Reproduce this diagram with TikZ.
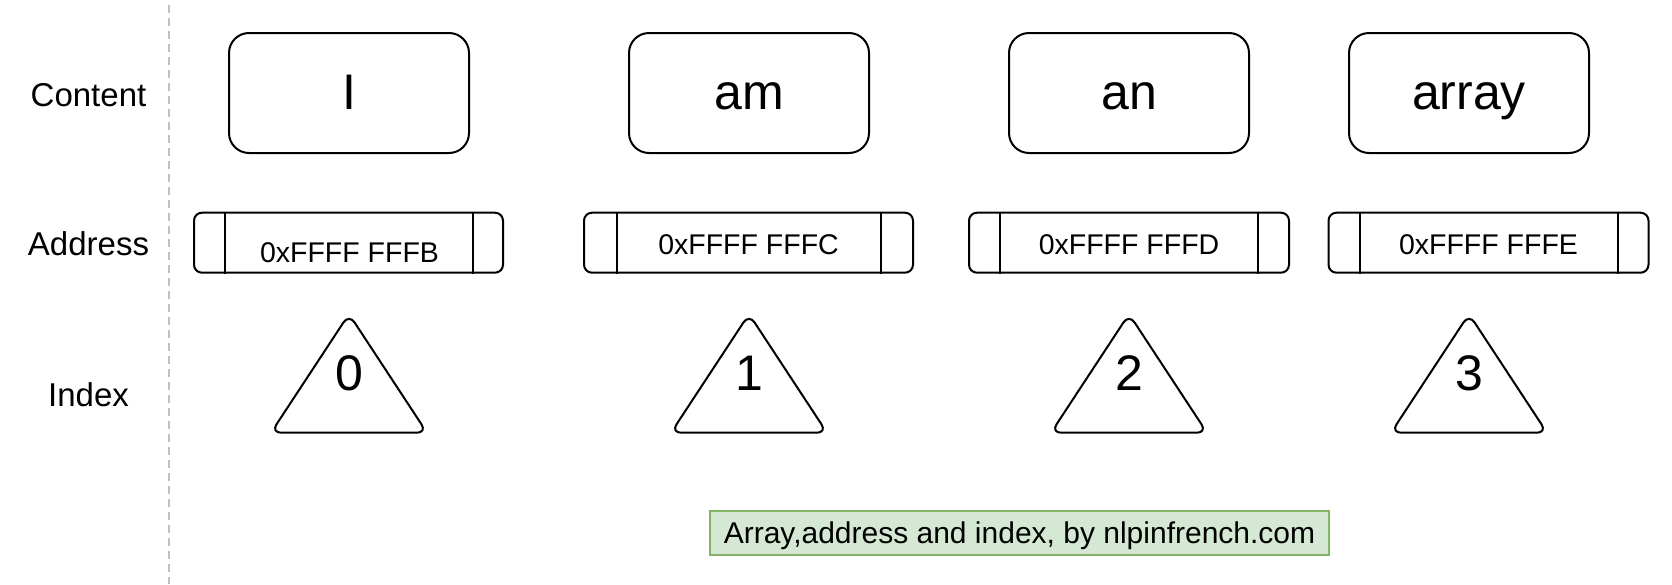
\documentclass[tikz,border=0pt]{standalone}
\usepackage{fontspec}
\setmainfont{Liberation Sans}
\usetikzlibrary{calc}
\definecolor{capfill}{HTML}{D5E8D4}
\definecolor{capline}{HTML}{82B366}
\definecolor{sepgray}{HTML}{C0C0C0}
\begin{document}
\begin{tikzpicture}[x=1pt,y=-1pt,
  contentbox/.style={draw, line width=2pt, rounded corners=20pt, minimum width=240pt, minimum height=120pt, inner sep=0pt},
  addrbox/.style={draw, line width=2pt, rounded corners=8pt, minimum height=60pt, inner sep=0pt},
  rowlabel/.style={anchor=base, inner sep=0pt, font=\fontsize{33}{40}\selectfont},
  bigtext/.style={anchor=base, inner sep=0pt, font=\fontsize{50}{60}\selectfont},
  addrtext/.style={anchor=base, inner sep=0pt, font=\fontsize{28.5}{34}\selectfont},
  captext/.style={anchor=base, inner sep=0pt, font=\fontsize{30}{36}\selectfont},
  capbox/.style={draw=capline, fill=capfill, line width=2pt, minimum width=619pt, minimum height=44pt, inner sep=0pt},
  tri/.style={draw, line width=2pt, rounded corners=10pt, line join=round},
  divider/.style={line width=2pt},
  sepline/.style={draw=sepgray, line width=2pt, dash pattern=on 8pt off 5pt}]
\useasboundingbox (0,0) rectangle (1672,584);

% separator
\coordinate (septop) at (169,5);
\coordinate (sepbot) at (169,584);
\draw[sepline] (septop) -- (sepbot);

% row labels
\node[rowlabel] (lcontent) at (88.5,106) {Content};
\node[rowlabel] (laddress) at (88.5,255) {Address};
\node[rowlabel] (lindex) at (88.5,406.5) {Index};

% content boxes
\node[contentbox] (c0) at (349,93) {};
\node[contentbox] (c1) at (749,93) {};
\node[contentbox] (c2) at (1129,93) {};
\node[contentbox] (c3) at (1469,93) {};
\node[bigtext] (t0) at (349,109.5) {I};
\node[bigtext] (t1) at (749,109.5) {am};
\node[bigtext] (t2) at (1129,109.5) {an};
\node[bigtext] (t3) at (1469,109.5) {array};

% address boxes
\node[addrbox, minimum width=309pt] (a0) at (348.5,242.7) {};
\node[addrbox, minimum width=329pt] (a1) at (748.5,242.7) {};
\node[addrbox, minimum width=320pt] (a2) at (1129,242.7) {};
\node[addrbox, minimum width=320pt] (a3) at (1488.5,242.7) {};
\draw[divider] ([xshift=32pt]a0.north west) -- ([xshift=32pt]a0.south west);
\draw[divider] ([xshift=-31pt]a0.north east) -- ([xshift=-31pt]a0.south east);
\draw[divider] ([xshift=34pt]a1.north west) -- ([xshift=34pt]a1.south west);
\draw[divider] ([xshift=-33pt]a1.north east) -- ([xshift=-33pt]a1.south east);
\draw[divider] ([xshift=32pt]a2.north west) -- ([xshift=32pt]a2.south west);
\draw[divider] ([xshift=-32pt]a2.north east) -- ([xshift=-32pt]a2.south east);
\draw[divider] ([xshift=32pt]a3.north west) -- ([xshift=32pt]a3.south west);
\draw[divider] ([xshift=-32pt]a3.north east) -- ([xshift=-32pt]a3.south east);
\node[addrtext] (at0) at (349.5,262) {0xFFFF FFFB};
\node[addrtext] (at1) at (748.5,254) {0xFFFF FFFC};
\node[addrtext] (at2) at (1129,254) {0xFFFF FFFD};
\node[addrtext] (at3) at (1488.5,254) {0xFFFF FFFE};

% index triangles
\foreach \cx in {349,749,1129,1469}{
  \draw[tri] (\cx,314) -- (\cx+78,432.7) -- (\cx-78,432.7) -- cycle;
}
\node[bigtext] (i0) at (349,390.5) {0};
\node[bigtext] (i1) at (749,390.5) {1};
\node[bigtext] (i2) at (1129,390.5) {2};
\node[bigtext] (i3) at (1469,390.5) {3};

% caption
\node[capbox] (cap) at (1019.5,533) {};
\node[captext] (captxt) at (1019.5,543.3) {Array,address and index, by nlpinfrench.com};
\end{tikzpicture}
\end{document}
